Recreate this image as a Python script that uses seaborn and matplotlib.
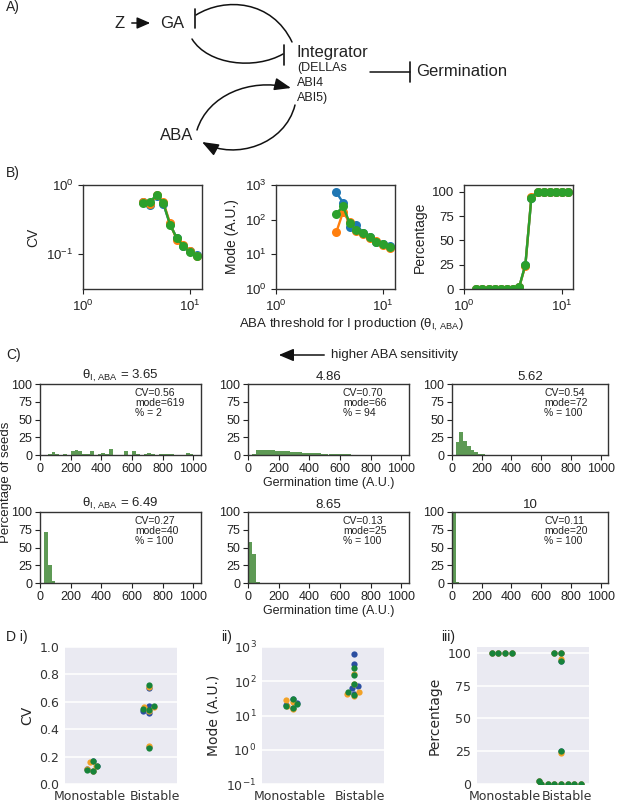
import warnings
import numpy as np
import pandas as pd
import seaborn as sns
import matplotlib
matplotlib.use('Agg')
import matplotlib.pyplot as plt
from matplotlib.path import Path
from matplotlib.patches import FancyArrowPatch
from matplotlib.ticker import NullLocator
from matplotlib.transforms import ScaledTranslation

warnings.filterwarnings('ignore')

# ---------------- data ----------------
# ABA threshold for I production (theta_I,ABA)
theta = [3.65, 4.22, 4.86, 5.62, 6.49, 7.50, 8.65, 10.0, 11.55]
theta_low = [1.33, 1.54, 1.78, 2.05, 2.37, 2.74, 3.16]   # no germination there
theta_all = theta_low + theta
runs = ['run 1', 'run 2', 'run 3']
mono_from = 7.5          # thresholds >= this are monostable

cv_run1 = [0.57, 0.52, 0.70, 0.53, 0.27, 0.17, 0.13, 0.11, 0.095]
cv_run2 = [0.56, 0.53, 0.71, 0.56, 0.28, 0.16, 0.135, 0.11, 0.094]
cv_run3 = [0.54, 0.57, 0.72, 0.55, 0.265, 0.17, 0.13, 0.105, 0.093]

mode_run1 = [619, 310, 63, 72, 42, 31, 23, 20, 17]
mode_run2 = [43, 165, 85, 48, 38, 29, 25, 19, 15.5]
mode_run3 = [150, 240, 82, 49, 40, 31, 22, 19.5, 16.5]

pct_run1 = [0, 0, 0, 0, 0, 0, 0, 2, 25, 94, 100, 100, 100, 100, 100, 100]
pct_run2 = [0, 0, 0, 0, 0, 0, 0, 2, 24, 95, 100, 100, 100, 100, 100, 100]
pct_run3 = [0, 0, 0, 0, 0, 0, 0, 2, 25, 94, 100, 100, 100, 100, 100, 100]

# germination time histograms (% of germinated seeds per 25 A.U. bin)
hist_365 = [0, 0, 1, 4, 2, 0, 2, 0, 6, 7, 6, 2, 2, 5, 0, 1, 3, 2, 8, 0,
            0, 0, 5, 0, 5, 2, 0, 2, 3, 2, 0, 2, 1, 1, 2, 0, 0, 0, 3, 2]
hist_486 = [0, 2, 7, 7, 7, 6.5, 6.5, 6, 5.5, 5, 5, 4.5, 4, 4, 3.5, 3, 3,
            2.5, 2.5, 2, 2, 1.5, 1.5, 1.2, 1, 1, 0.8, 0.6, 0.5, 0.4, 0.3, 0.2, 0.1]
hist_562 = [0, 18, 33, 20, 13, 7, 4, 2, 1, 0.5]
hist_649 = [0, 72, 25, 3]
hist_865 = [58, 41, 1]
hist_10 = [99, 1]

hist_titles = ['3.65', '4.86', '5.62', '6.49', '8.65', '10']
hist_cv = ['0.56', '0.70', '0.54', '0.27', '0.13', '0.11']
hist_mode = ['619', '66', '72', '40', '25', '20']
hist_pct = ['2', '94', '100', '100', '100', '100']

# ---------------- style ----------------
sns.set_style('ticks')
plt.rcParams['font.family'] = ['Liberation Sans', 'DejaVu Sans']
plt.rcParams['mathtext.fontset'] = 'custom'
plt.rcParams['mathtext.rm'] = 'Liberation Sans'
plt.rcParams['mathtext.it'] = 'Liberation Sans:italic'
plt.rcParams['text.color'] = '#222222'
plt.rcParams['axes.labelcolor'] = '#222222'

W, H = 617, 802
fig = plt.figure(figsize=(W / 100, H / 100), dpi=100)


def box(x0, y0, x1, y1):
    return [x0 / W, 1 - y1 / H, (x1 - x0) / W, (y1 - y0) / H]


# overlay in pixel coordinates for the diagram and panel letters
ov = fig.add_axes([0, 0, 1, 1])
ov.set_xlim(0, W)
ov.set_ylim(H, 0)
ov.axis('off')

ink = '#111111'


def curve(pts, head=None):
    path = Path(pts, [Path.MOVETO, Path.CURVE4, Path.CURVE4, Path.CURVE4])
    style = head if head else '-'
    ov.add_patch(FancyArrowPatch(path=path, arrowstyle=style, mutation_scale=10,
                                 lw=1.1, color=ink))


head = '-|>,head_length=1.0,head_width=0.38'
# Integrator --| GA
curve([(196, 15), (225, -3), (272, 0), (292, 42)])
ov.plot([195, 195], [9, 28], color=ink, lw=1.2)
# GA --| Integrator
curve([(192, 39), (208, 65), (255, 70), (283, 54)])
ov.plot([284, 284], [45, 65], color=ink, lw=1.2)
# ABA -> Integrator
curve([(197, 130), (208, 95), (250, 78), (291, 88)], head)
# Integrator -> ABA
curve([(295, 105), (285, 145), (235, 160), (202, 142)], head)
# Z -> GA
ov.add_patch(FancyArrowPatch((129, 23), (153, 23), arrowstyle='-|>,head_length=0.8,head_width=0.35',
                             mutation_scale=10, lw=1.1, color=ink))
# Integrator --| Germination
ov.plot([370, 410], [72, 72], color=ink, lw=1.1)
ov.plot([410, 410], [62, 82], color=ink, lw=1.2)

ov.text(120, 23, 'Z', fontsize=12, ha='center', va='center')
ov.text(172, 23, 'GA', fontsize=12, ha='center', va='center')
ov.text(297, 53, 'Integrator', fontsize=12, ha='left', va='center')
ov.text(297, 68, '(DELLAs', fontsize=9, ha='left', va='center')
ov.text(297, 83, 'ABI4', fontsize=9, ha='left', va='center')
ov.text(297, 98, 'ABI5)', fontsize=9, ha='left', va='center')
ov.text(416, 72, 'Germination', fontsize=12, ha='left', va='center')
ov.text(177, 135, 'ABA', fontsize=12, ha='center', va='center')

for x, y, s in [(6, 7, 'A)'), (6, 173, 'B)'), (6, 355, 'C)'),
                (6, 637, 'D i)'), (221, 637, 'ii)'), (441, 637, 'iii)')]:
    ov.text(x, y, s, fontsize=10, ha='left', va='center')

# ---------------- B ----------------
colors_b = ['#1f77b4', '#ff7f0e', '#2ca02c']
df_b = pd.DataFrame({'theta': theta * 3,
                     'cv': cv_run1 + cv_run2 + cv_run3,
                     'mode': mode_run1 + mode_run2 + mode_run3,
                     'run': np.repeat(runs, len(theta))})
df_p = pd.DataFrame({'theta': theta_all * 3,
                     'pct': pct_run1 + pct_run2 + pct_run3,
                     'run': np.repeat(runs, len(theta_all))})

b_axes = [fig.add_axes(box(83, 185, 202, 289)),
          fig.add_axes(box(276, 185, 395, 289)),
          fig.add_axes(box(464, 185, 573, 289))]
for ax, (data, col) in zip(b_axes, [(df_b, 'cv'), (df_b, 'mode'), (df_p, 'pct')]):
    sns.lineplot(data=data, x='theta', y=col, hue='run', hue_order=runs,
                 palette=colors_b, marker='o', markersize=6.5, markeredgewidth=0,
                 linewidth=1.7, legend=False, ax=ax)
    ax.set_xscale('log')
    ax.set_xlim(1, 12.9)
    ax.xaxis.set_minor_locator(NullLocator())
    ax.set_xlabel('')
    ax.tick_params(direction='out', length=3.5, width=0.8, labelsize=9.5, colors='#222222')
    for s in ax.spines.values():
        s.set_linewidth(1.0)
        s.set_color('#333333')

b_axes[0].set_yscale('log')
b_axes[0].set_ylim(0.031, 1.0)
b_axes[0].yaxis.set_minor_locator(NullLocator())
b_axes[0].set_ylabel('CV', fontsize=10)
b_axes[1].set_yscale('log')
b_axes[1].set_ylim(1, 1000)
b_axes[1].yaxis.set_minor_locator(NullLocator())
b_axes[1].set_ylabel('Mode (A.U.)', fontsize=10)
b_axes[2].set_ylim(0, 107)
b_axes[2].set_yticks([0, 25, 50, 75, 100])
b_axes[2].set_ylabel('Percentage', fontsize=10)
ov.text(351, 325, r'ABA threshold for I production (θ$_{\mathrm{I,\,ABA}}$)',
        fontsize=9.5, ha='center', va='center')

# ---------------- C ----------------
ov.add_patch(FancyArrowPatch((327, 355), (276, 355), arrowstyle='-|>,head_length=0.9,head_width=0.38',
                             mutation_scale=10, lw=1.1, color=ink))
ov.text(331, 355, 'higher ABA sensitivity', fontsize=9.5, ha='left', va='center')
ov.text(6, 482, 'Percentage of seeds', fontsize=9.5, rotation=90, ha='center', va='center')

bins = list(range(0, 1001, 25))
hist_color = '#5e9a55'
cols = [(40, 201), (248, 409), (452, 608)]
rows = [(384, 455), (512, 583)]
hists = [hist_365, hist_486, hist_562, hist_649, hist_865, hist_10]
for i, h in enumerate(hists):
    r, c = divmod(i, 3)
    ax = fig.add_axes(box(cols[c][0], rows[r][0], cols[c][1], rows[r][1]))
    df_h = pd.DataFrame({'t': [b + 12.5 for b in bins[:len(h)]], 'pct': h})
    sns.histplot(data=df_h, x='t', weights='pct', bins=bins, color=hist_color,
                 alpha=1, linewidth=0, ax=ax)
    ax.set_xlim(0, 1050)
    ax.set_ylim(0, 100)
    ax.set_xticks(range(0, 1001, 200))
    ax.set_yticks([0, 25, 50, 75, 100])
    ax.set_ylabel('')
    ax.tick_params(direction='out', length=3.5, width=0.8, labelsize=9, colors='#222222', pad=2)
    for s in ax.spines.values():
        s.set_linewidth(1.0)
        s.set_color('#333333')
    title = hist_titles[i]
    if c == 0:
        title = r'θ$_{\mathrm{I,\,ABA}}$ = ' + title
    ax.set_title(title, fontsize=9.5, pad=3)
    ax.text(0.59, 0.95, f'CV={hist_cv[i]}\nmode={hist_mode[i]}\n% = {hist_pct[i]}',
            transform=ax.transAxes, ha='left', va='top', fontsize=7.5, linespacing=1.05)
    if c == 1:
        ax.set_xlabel('Germination time (A.U.)', fontsize=9, labelpad=2)
    else:
        ax.set_xlabel('')

# ---------------- D ----------------
colors_d = ['#2a4ea0', '#f2a227', '#17843a']
regime = ['Monostable' if t >= mono_from else 'Bistable' for t in theta]
regime_all = ['Monostable' if t >= mono_from else 'Bistable' for t in theta_all]
df_d = pd.DataFrame({'regime': regime * 3,
                     'cv': cv_run1 + cv_run2 + cv_run3,
                     'mode': mode_run1 + mode_run2 + mode_run3,
                     'run': np.repeat(runs, len(theta))})
df_dp = pd.DataFrame({'regime': regime_all * 3,
                      'pct': pct_run1 + pct_run2 + pct_run3,
                      'run': np.repeat(runs, len(theta_all))})

with sns.axes_style('darkgrid'):
    d_axes = [fig.add_axes(box(65, 647, 177, 784)),
              fig.add_axes(box(262, 647, 384, 784)),
              fig.add_axes(box(477, 647, 589, 784))]
d_axes[1].set_yscale('log')
for ax, (data, col, lab) in zip(d_axes, [(df_d, 'cv', 'CV'), (df_d, 'mode', 'Mode (A.U.)'),
                                         (df_dp, 'pct', 'Percentage')]):
    # each run is swarmed on its own, so the runs overlap (last one on top)
    for run, color in zip(runs, colors_d):
        sns.swarmplot(data=data[data['run'] == run], x='regime', y=col,
                      order=['Monostable', 'Bistable'], color=color, size=4.5, ax=ax)
    ax.set_facecolor('#EAEAF2')
    for s in ax.spines.values():
        s.set_visible(False)
    ax.xaxis.grid(False)
    ax.yaxis.grid(True, color='white', lw=1.1)
    ax.set_axisbelow(True)
    ax.tick_params(length=0, labelsize=9, colors='#333333', pad=4)
    ax.set_xlabel('')
    ax.set_ylabel(lab, fontsize=10)

d_axes[0].set_ylim(0, 1.0)
d_axes[0].set_yticks([0, 0.2, 0.4, 0.6, 0.8, 1.0])
d_axes[1].set_ylim(0.1, 1000)
d_axes[1].yaxis.set_minor_locator(NullLocator())
d_axes[2].set_ylim(0, 104.5)
d_axes[2].set_yticks([0, 25, 50, 75, 100])
for ax, shifts in zip(d_axes, [(-3, 6), (-3, 6), (0, 6)]):
    ax.set_xlim(-0.5, 1.5)
    for lab, dx in zip(ax.get_xticklabels(), shifts):
        lab.set_transform(lab.get_transform() + ScaledTranslation(dx / 100, 0, fig.dpi_scale_trans))

fig.savefig('out.png', dpi=100)
